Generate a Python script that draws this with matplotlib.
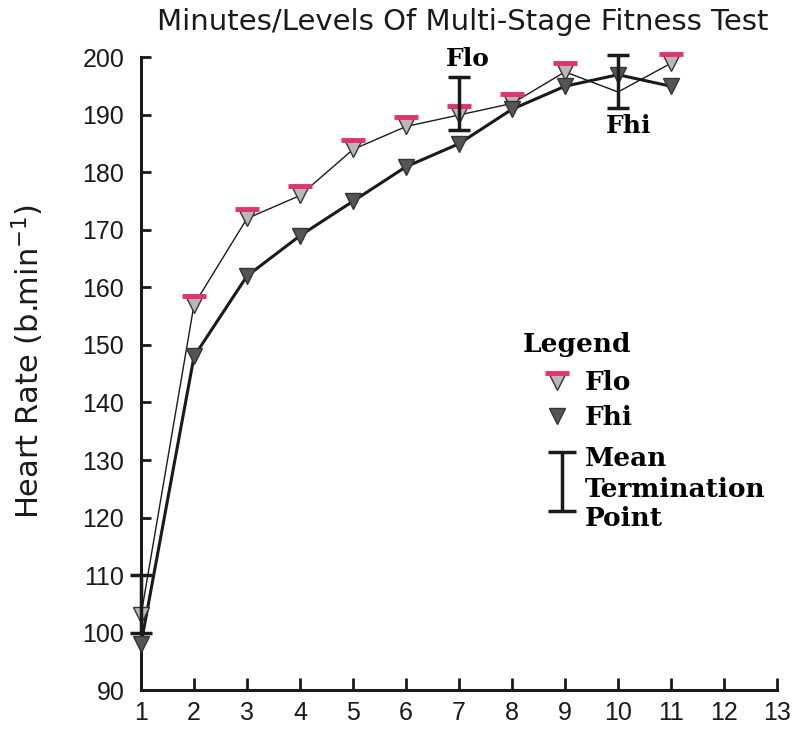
import matplotlib.pyplot as plt
import matplotlib.transforms as mtransforms

# Heart rate per minute/level of the multi-stage fitness test
levels = [1, 2, 3, 4, 5, 6, 7, 8, 9, 10, 11]
flo = [103, 157, 172, 176, 184, 188, 190, 192, 197.5, 194, 199]
fhi = [98, 148, 162, 169, 175, 181, 185, 191, 195, 197, 195]

# Mean termination points (level, mean, half range)
term_x = [1, 7, 10]
term_y = [105, 192, 195.8]
term_err = [5, 4.6, 4.6]

flo_marked = [0, 1, 2, 3, 4, 5, 6, 7, 8, 10]
flo_barred = [1, 2, 3, 4, 5, 6, 7, 8, 10]

RED = '#e8306a'
LIGHT = '#b8b8b8'
DARK = '#555555'
INK = '#1a1a1a'
serif = 'DejaVu Serif'
sans = 'Liberation Sans'

fig = plt.figure(figsize=(7.98, 7.35), dpi=100)
ax = fig.add_axes([0.1767, 0.0612, 0.797, 0.8606])

ax.plot(levels, flo, color=INK, lw=1.0, zorder=2, clip_on=False)
ax.plot(levels, fhi, color=INK, lw=2.2, zorder=2, clip_on=False)
ax.plot([levels[i] for i in flo_marked], [flo[i] for i in flo_marked], 'v', ls='none',
        ms=11, mfc=LIGHT, mec='#333333', mew=1.0, zorder=4, clip_on=False)
ax.plot(levels, fhi, 'v', ls='none', ms=12, mfc=DARK, mec='#333333', mew=1.0,
        zorder=4, clip_on=False)

# red bars sitting just above the Flo markers
bar_tr = mtransforms.offset_copy(ax.transData, fig=fig, x=0, y=9, units='dots')
ax.plot([levels[i] for i in flo_barred], [flo[i] for i in flo_barred], '_', ls='none',
        ms=17, mew=3.5, color=RED, transform=bar_tr, zorder=5, clip_on=False)

ax.errorbar(term_x, term_y, yerr=term_err, fmt='none', ecolor=INK, elinewidth=2.5,
            capsize=8, capthick=2.5, zorder=6, clip_on=False)

ax.text(7.17, 199.8, 'Flo', family=serif, weight='bold', fontsize=18, ha='center', va='center')
ax.text(10.2, 188.0, 'Fhi', family=serif, weight='bold', fontsize=18, ha='center', va='center')

# legend block
fs = 19
tx = 9.38
ax.text(8.2, 150.0, 'Legend', family=serif, weight='bold', fontsize=fs, ha='left', va='center')
ax.plot([8.85], [143.6], 'v', ms=11, mfc=LIGHT, mec='#333333', mew=1.0)
ax.plot([8.85], [143.6], '_', ms=17, mew=3.5, color=RED, transform=bar_tr)
ax.text(tx, 143.4, 'Flo', family=serif, weight='bold', fontsize=fs, ha='left', va='center')
ax.plot([8.85], [137.6], 'v', ms=12, mfc=DARK, mec='#333333', mew=1.0)
ax.text(tx, 137.4, 'Fhi', family=serif, weight='bold', fontsize=fs, ha='left', va='center')
ax.errorbar([8.94], [126.3], yerr=[5.1], fmt='none', ecolor=INK, elinewidth=2.5,
            capsize=10, capthick=2.5)
ax.text(tx, 130.3, 'Mean', family=serif, weight='bold', fontsize=fs, ha='left', va='center')
ax.text(tx, 124.8, 'Termination', family=serif, weight='bold', fontsize=fs, ha='left', va='center')
ax.text(tx, 119.8, 'Point', family=serif, weight='bold', fontsize=fs, ha='left', va='center')

ax.set_xlim(1, 13)
ax.set_ylim(90, 200)
ax.set_xticks(range(1, 14))
ax.set_yticks(range(90, 201, 10))
ax.spines['top'].set_visible(False)
ax.spines['right'].set_visible(False)
for s in ('left', 'bottom'):
    ax.spines[s].set_linewidth(2.2)
    ax.spines[s].set_color(INK)
ax.tick_params(axis='both', direction='in', width=2, color=INK, labelsize=18,
               labelcolor=INK)
ax.tick_params(axis='x', length=9, pad=8)
ax.tick_params(axis='y', length=7, pad=12)
for lab in ax.get_xticklabels() + ax.get_yticklabels():
    lab.set_family(sans)

ax.set_ylabel('Heart Rate (b.min$^{-1}$)', fontsize=22, family='DejaVu Sans', color=INK)
ax.yaxis.set_label_coords(-0.15, 0.52)
fig.text(0.58, 0.970, 'Minutes/Levels Of Multi-Stage Fitness Test', fontsize=21,
         ha='center', va='center', color=INK)

fig.savefig('out.png', dpi=100)
